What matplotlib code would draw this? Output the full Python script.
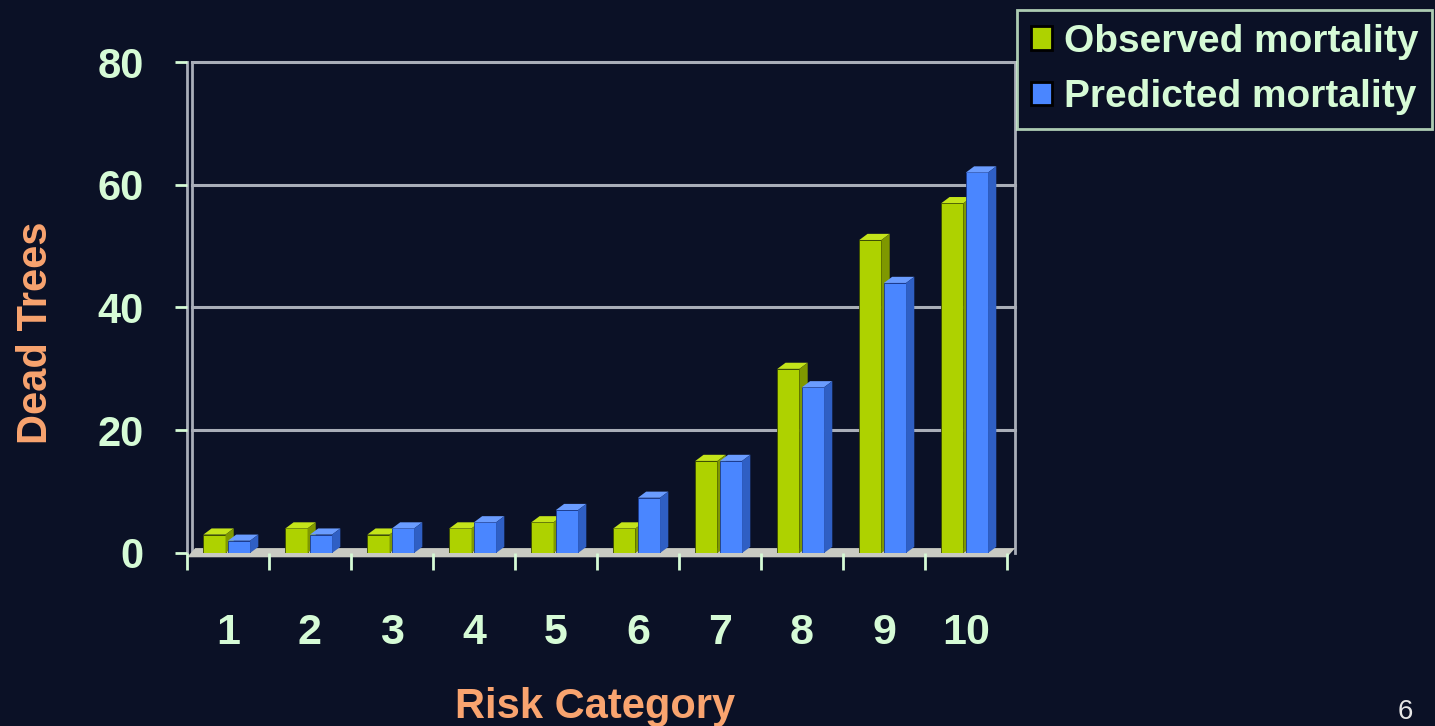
import matplotlib
matplotlib.use('Agg')
import matplotlib.pyplot as plt
from matplotlib.patches import Polygon, Patch

# mortality counts per risk category
categories = ['1', '2', '3', '4', '5', '6', '7', '8', '9', '10']
observed = [3, 4, 3, 4, 5, 4, 15, 30, 51, 57]
predicted = [2, 3, 4, 5, 7, 9, 15, 27, 44, 62]
y_ticks = [0, 20, 40, 60, 80]

BG = '#0b1126'
LABEL = '#d6fbd6'
ORANGE = '#f9a46f'
GRID = '#a9aeb8'

# front / top / side colours of the pseudo-3D bars
GREEN = ('#aed200', '#c4e41a', '#7f9800')
BLUE = ('#4a86ff', '#6a9cff', '#2f5fc4')

plt.rcParams['font.family'] = ['Liberation Sans', 'DejaVu Sans']
plt.rcParams['font.weight'] = 'bold'

fig = plt.figure(figsize=(14.35, 7.26), dpi=100, facecolor=BG)
ax = fig.add_axes([0.1303, 0.2383, 0.5714, 0.6763])
ax.set_facecolor(BG)
ax.set_xlim(-0.5, 9.5)
ax.set_ylim(0, 80)

dx, dy = 0.1, 1.0  # depth offset

# floor
ax.add_patch(Polygon([(-0.5, -0.7), (9.5, -0.7), (9.5 + dx, dy - 0.2), (-0.5 + dx, dy - 0.2)],
                     closed=True, facecolor='#c9cac2', edgecolor='none', zorder=1,
                     clip_on=False))

# back wall and gridlines
for v in y_ticks[1:]:
    ax.plot([-0.5 + dx * 0.6, 9.5 + dx], [v, v], color=GRID, lw=2.2, zorder=0.5, clip_on=False)
ax.plot([-0.5, -0.5], [0, 80], color=GRID, lw=2, zorder=0.5, clip_on=False)
ax.plot([-0.5 + dx * 0.6, -0.5 + dx * 0.6], [0, 80], color=GRID, lw=2, zorder=0.5, clip_on=False)
ax.plot([9.5 + dx, 9.5 + dx], [0, 80], color=GRID, lw=2, zorder=0.5, clip_on=False)


def bar3d(x0, w, h, cols, edge):
    front, top, side = cols
    ax.bar(x0, h, width=w, align='edge', color=front, edgecolor=edge, linewidth=0.6, zorder=3)
    ax.add_patch(Polygon([(x0, h), (x0 + w, h), (x0 + w + dx, h + dy), (x0 + dx, h + dy)],
                         closed=True, facecolor=top, edgecolor='none', zorder=3))
    ax.add_patch(Polygon([(x0 + w, 0), (x0 + w + dx, dy), (x0 + w + dx, h + dy), (x0 + w, h)],
                         closed=True, facecolor=side, edgecolor='none', zorder=3))


w = 0.27
for i in range(len(categories)):
    bar3d(i - 0.30, w, observed[i], GREEN, '#3a4a00')
    bar3d(i + 0.0, w, predicted[i], BLUE, '#1a3a90')

for s in ax.spines.values():
    s.set_visible(False)

ax.set_yticks(y_ticks)
ax.set_yticklabels([str(v) for v in y_ticks])
ax.tick_params(axis='y', colors=LABEL, labelsize=30, length=9, width=2, pad=22,
               direction='out')
ax.set_xticks(range(len(categories)))
ax.set_xticklabels(categories)
ax.set_xticks([i - 0.5 for i in range(len(categories) + 1)], minor=True)
ax.tick_params(axis='x', which='major', length=0, colors=LABEL, labelsize=31, pad=43)
ax.tick_params(axis='x', which='minor', length=12, width=2, color=LABEL, pad=0,
               direction='out')
for t in ax.get_xticklabels() + ax.get_yticklabels():
    t.set_fontweight('bold')

ax.set_ylabel('Dead Trees', color=ORANGE, fontsize=30, fontweight='bold', labelpad=30)
ax.yaxis.label.set_y(0.448)
fig.text(595 / 1435, 1 - 718 / 726, 'Risk Category', color=ORANGE, fontsize=30,
         fontweight='bold', ha='center', va='baseline')

handles = [Patch(facecolor=GREEN[0], edgecolor='black', linewidth=2, label='Observed mortality'),
           Patch(facecolor=BLUE[0], edgecolor='black', linewidth=2, label='Predicted mortality')]
leg = fig.legend(handles=handles, loc='upper right', bbox_to_anchor=(1432 / 1435, 1 - 10 / 726),
                 frameon=True, fancybox=False, facecolor=BG, edgecolor=LABEL,
                 prop={'size': 28, 'weight': 'bold'}, handlelength=0.55, handleheight=0.55,
                 handletextpad=0.3, labelspacing=0.5, borderpad=0.35, borderaxespad=0)
leg.get_frame().set_linewidth(2)
for t in leg.get_texts():
    t.set_color(LABEL)

fig.text(1405 / 1435, 1 - 712 / 726, '6', color='#e6e6e6', fontsize=20, fontweight='normal',
         ha='center', va='center')

fig.savefig('out.png', dpi=100, facecolor=BG)
